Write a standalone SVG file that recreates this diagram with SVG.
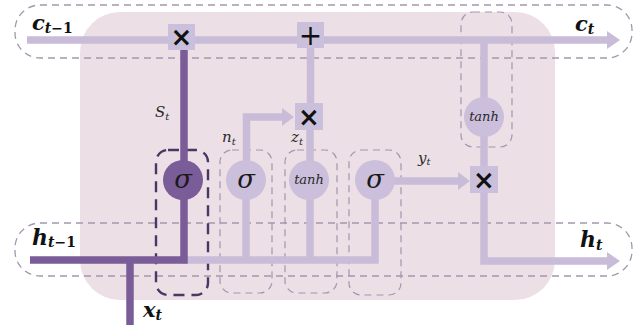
<svg xmlns="http://www.w3.org/2000/svg" width="638" height="329" viewBox="0 0 638 329">
  <style>
    .cell { fill: #ecdfe6; }
    .lane { fill: none; stroke: #a596ad; stroke-width: 1.3; stroke-dasharray: 7 5; }
    .gate { fill: none; stroke: #a596ad; stroke-width: 1.2; stroke-dasharray: 7 5; }
    .gate-dark { fill: none; stroke: #4b3763; stroke-width: 2.4; stroke-dasharray: 11 7; }
    .wire { fill: none; stroke: #c8bcd8; stroke-width: 7.5; }
    .wire-dark { fill: none; stroke: #7a5c98; stroke-width: 7.5; }
    .head { fill: #c8bcd8; }
    .op { fill: #cbc0db; }
    .op-sym { font-family: "DejaVu Sans", sans-serif; font-weight: bold; font-size: 26px; fill: #111; text-anchor: middle; }
    .op-plus { font-weight: normal; font-size: 28px; }
    .act { fill: #cbbfdb; }
    .act-dark { fill: #7a5c98; }
    .sigma { font-family: "DejaVu Serif", serif; font-style: italic; font-size: 26px; fill: #1a1a1a; text-anchor: middle; }
    .tanh { font-family: "DejaVu Serif", serif; font-style: italic; font-size: 13px; fill: #2a2a2a; text-anchor: middle; }
    .io { font-family: "DejaVu Serif", serif; font-style: italic; font-weight: bold; fill: #111; }
    .up { font-style: normal; }
    .sig { font-family: "DejaVu Serif", serif; font-style: italic; fill: #2a2a2a; }
  </style>

  <!-- cell body -->
  <rect class="cell" x="80" y="12" width="475" height="288" rx="40" ry="40"/>

  <!-- state lanes -->
  <g id="lanes">
    <rect class="lane" x="15" y="5" width="617" height="53" rx="25" ry="25"/>
    <rect class="lane" x="15" y="223" width="617" height="53" rx="25" ry="25"/>
  </g>

  <!-- gate frames -->
  <g id="frames">
    <rect class="gate-dark" x="156" y="150" width="52" height="145" rx="12" ry="12"/>
    <rect class="gate" x="220" y="150" width="52" height="143" rx="12" ry="12"/>
    <rect class="gate" x="285" y="150" width="52" height="143" rx="12" ry="12"/>
    <rect class="gate" x="349" y="150" width="52" height="145" rx="12" ry="12"/>
    <rect class="gate" x="461" y="12" width="51" height="135" rx="12" ry="12"/>
  </g>

  <!-- connectors -->
  <g id="connectors">
    <!-- cell state -->
    <path class="wire" d="M27,40 H609"/>
    <polygon class="head" points="607,31 620,40 607,49"/>
    <!-- hidden input and x_t -->
    <path class="wire" d="M183,260 H375 V180"/>
    <path class="wire" d="M246,260 V180"/>
    <path class="wire" d="M310,260 V116"/>
    <path class="wire-dark" d="M30,260 H184 V40"/>
    <path class="wire-dark" d="M130,325 V260"/>
    <!-- n_t into the product -->
    <path class="wire" d="M246.5,180 V117 H284"/>
    <polygon class="head" points="282,108 294,117 282,126"/>
    <!-- product into the sum -->
    <path class="wire" d="M310.5,35 V116"/>
    <!-- output path -->
    <path class="wire" d="M484,40 V261 H609"/>
    <polygon class="head" points="607,252 620,261 607,270"/>
    <!-- y_t into the output product -->
    <path class="wire" d="M375,181 H460"/>
    <polygon class="head" points="458,172 470,181 458,190"/>
  </g>

  <!-- operators -->
  <g id="mul-forget">
    <rect class="op" x="168" y="24" width="27" height="26"/>
    <text class="op-sym" x="181.5" y="46">×</text>
  </g>
  <g id="add-state">
    <rect class="op" x="297" y="22" width="27" height="26"/>
    <text class="op-sym op-plus" x="310.5" y="45">+</text>
  </g>
  <g id="mul-update">
    <rect class="op" x="295" y="103" width="28" height="27"/>
    <text class="op-sym" x="309" y="126">×</text>
  </g>
  <g id="mul-output">
    <rect class="op" x="470" y="166" width="28" height="27"/>
    <text class="op-sym" x="484" y="189">×</text>
  </g>

  <!-- activations -->
  <g id="gate-s">
    <circle class="act-dark" cx="183" cy="180" r="20"/>
    <text class="sigma" x="183" y="188">σ</text>
  </g>
  <g id="gate-n">
    <circle class="act" cx="246" cy="180" r="20"/>
    <text class="sigma" x="246" y="188">σ</text>
  </g>
  <g id="gate-z">
    <circle class="act" cx="309" cy="180" r="20"/>
    <text class="tanh" x="309" y="184">tanh</text>
  </g>
  <g id="gate-y">
    <circle class="act" cx="375" cy="180" r="20"/>
    <text class="sigma" x="375" y="188">σ</text>
  </g>
  <g id="state-tanh">
    <circle class="act" cx="484" cy="117" r="20"/>
    <text class="tanh" x="484" y="121">tanh</text>
  </g>

  <!-- signal labels -->
  <g id="labels">
    <text class="io" x="32" y="30" font-size="21">c<tspan font-size="14" dy="3">t</tspan><tspan class="up" font-size="14">−1</tspan></text>
    <text class="io" x="575" y="31" font-size="21">c<tspan font-size="14" dy="3">t</tspan></text>
    <text class="io" x="32" y="245" font-size="22">h<tspan font-size="14" dy="2">t</tspan><tspan class="up" font-size="14">−1</tspan></text>
    <text class="io" x="580" y="247" font-size="22">h<tspan font-size="14" dy="3">t</tspan></text>
    <text class="io" x="143" y="317" font-size="21">x<tspan font-size="14" dy="3">t</tspan></text>
    <text class="sig" x="155" y="117" font-size="15">S<tspan font-size="10" dy="3">t</tspan></text>
    <text class="sig" x="222" y="142" font-size="15">n<tspan font-size="10" dy="3">t</tspan></text>
    <text class="sig" x="291" y="142" font-size="15">z<tspan font-size="10" dy="3">t</tspan></text>
    <text class="sig" x="418" y="163" font-size="15">y<tspan font-size="10" dy="2">t</tspan></text>
  </g>
</svg>
